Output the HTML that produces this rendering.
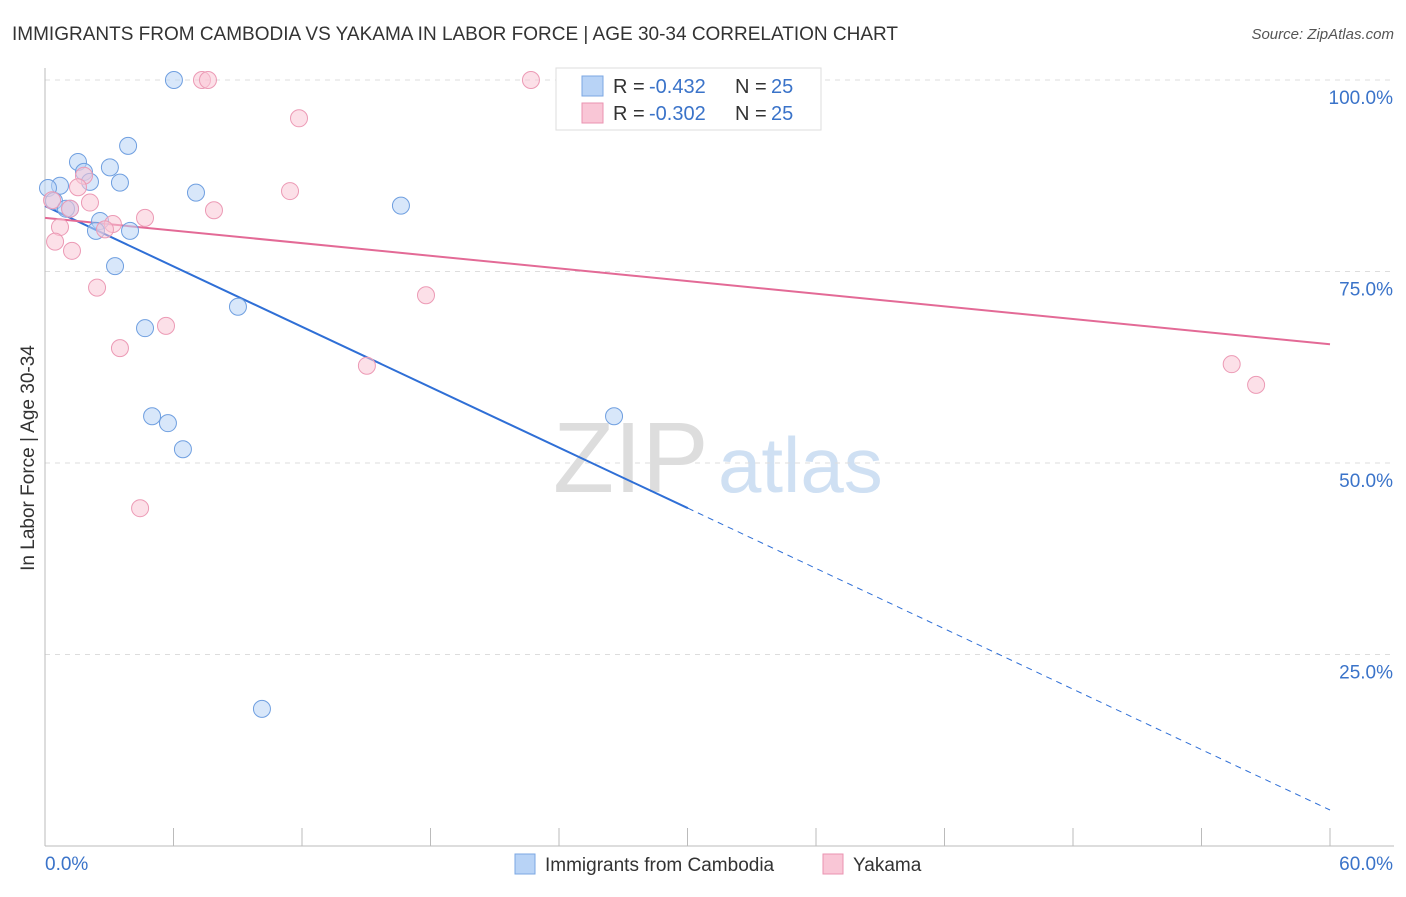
<!DOCTYPE html>
<html><head><meta charset="utf-8"><style>
body{margin:0;background:#fff;font-family:"Liberation Sans",sans-serif}
svg text{font-family:"Liberation Sans",sans-serif}
</style></head><body>
<svg id="chart" width="1406" height="892" xmlns="http://www.w3.org/2000/svg">
<text x="12" y="40" font-size="19" fill="#333" textLength="886" lengthAdjust="spacingAndGlyphs">IMMIGRANTS FROM CAMBODIA VS YAKAMA IN LABOR FORCE | AGE 30-34 CORRELATION CHART</text>
<text x="1394" y="39" font-size="15" fill="#555" text-anchor="end" font-style="italic">Source: ZipAtlas.com</text>
<g>
<text x="553" y="492" font-size="100" fill="#ddd" font-family="Liberation Serif">ZIP</text>
<text x="718" y="492" font-size="78" fill="#cfe0f3">atlas</text>
</g>
<g id="grid"></g><g id="axes"></g><g id="trends"></g><g id="points"></g>
<text transform="translate(34,458) rotate(-90)" font-size="19" fill="#333" text-anchor="middle">In Labor Force | Age 30-34</text>
<g>
<rect x="556" y="68" width="265" height="62" fill="#fff" stroke="#ddd"/>
<rect x="582" y="76" width="21" height="20" fill="#b8d3f6" stroke="#7ba7e3"/>
<rect x="582" y="103" width="21" height="20" fill="#f9c6d6" stroke="#ea93b0"/>
<text x="613" y="93" font-size="20" fill="#333">R =</text>
<text x="649" y="93" font-size="20" fill="#3a73c9">-0.432</text>
<text x="735" y="93" font-size="20" fill="#333">N =</text>
<text x="771" y="93" font-size="20" fill="#3a73c9">25</text>
<text x="613" y="120" font-size="20" fill="#333">R =</text>
<text x="649" y="120" font-size="20" fill="#3a73c9">-0.302</text>
<text x="735" y="120" font-size="20" fill="#333">N =</text>
<text x="771" y="120" font-size="20" fill="#3a73c9">25</text>
</g>
<g>
<rect x="515" y="854" width="20" height="20" fill="#b8d3f6" stroke="#7ba7e3"/>
<text x="545" y="871" font-size="19" fill="#333">Immigrants from Cambodia</text>
<rect x="823" y="854" width="20" height="20" fill="#f9c6d6" stroke="#ea93b0"/>
<text x="853" y="871" font-size="19" fill="#333">Yakama</text>
</g>
</svg>
<script>
const yTicks=[25,50,75,100];
const yTickLabels=["25.0%","50.0%","75.0%","100.0%"];
const xTicks=[0,6,12,18,24,30,36,42,48,54,60];
const blueX=[6.02,3.88,1.54,3.03,1.82,0.70,0.14,2.10,3.50,7.05,0.42,1.17,0.98,16.62,2.57,2.38,3.97,3.27,9.01,4.67,5.00,5.74,6.44,26.57,10.13];
const blueY=[100,91.4,89.3,88.6,88.0,86.2,85.9,86.7,86.6,85.3,84.2,83.2,83.2,83.6,81.6,80.3,80.3,75.7,70.4,67.6,56.1,55.2,51.8,56.1,17.9];
const pinkX=[7.33,7.61,22.69,11.86,1.82,11.44,1.54,2.10,1.17,7.89,4.67,3.17,2.80,0.70,0.47,1.26,2.43,17.79,5.65,3.50,15.03,55.41,56.55,4.44,0.33];
const pinkY=[100,100,100,95.0,87.5,85.5,86.0,84.0,83.2,83.0,82.0,81.2,80.5,80.8,78.9,77.7,72.9,71.9,67.9,65.0,62.7,62.9,60.2,44.1,84.3];
const blueTrend=[83.55,4.7];const blueSolidEnd=30.02;
const pinkTrend=[82.0,65.5];
const NS="http://www.w3.org/2000/svg";
const X=v=>45+v*(1285/60), Y=v=>846-v*7.66;
function mk(p,t,a){const e=document.createElementNS(NS,t);for(const k in a)e.setAttribute(k,a[k]);document.getElementById(p).appendChild(e);return e;}
yTicks.forEach((t,i)=>{
 const l=mk('grid','line',{x1:45,x2:1394,y1:Y(t),y2:Y(t),stroke:'#ddd','stroke-dasharray':'5,5'});
 
 
 const tx=mk('grid','text',{x:1393,y:Y(t)+24,'font-size':19,fill:'#3a73c9','text-anchor':'end'});
 tx.textContent=yTickLabels[i];
 
 
});
const ax=mk('axes','line',{x1:45,x2:45,y1:68,y2:846,stroke:'#bbb'});


const bx=mk('axes','line',{x1:45,x2:1394,y1:846,y2:846,stroke:'#bbb'});


xTicks.forEach(t=>{const l=mk('axes','line',{x1:X(t),x2:X(t),y1:828,y2:846,stroke:'#bbb'});
 
 });
const xl0=mk('axes','text',{x:45,y:870,'font-size':19,fill:'#3a73c9'});xl0.textContent='0.0%';


const xl1=mk('axes','text',{x:1393,y:870,'font-size':19,fill:'#3a73c9','text-anchor':'end'});xl1.textContent='60.0%';


function pts(xs,ys,fill,stroke,name){xs.forEach((x,i)=>{const c=mk('points','circle',{cx:X(x),cy:Y(ys[i]),r:8.5,fill:fill,'fill-opacity':0.55,stroke:stroke,'stroke-width':1});
 
 });}
pts(blueX,blueY,'#b8d3f6','#6f9fe0','cambodia-point');
pts(pinkX,pinkY,'#f9c6d6','#ec9ab5','yakama-point');
const by=x=>blueTrend[0]+(blueTrend[1]-blueTrend[0])*x/60;
const t1=mk('trends','line',{x1:X(0),y1:Y(by(0)),x2:X(blueSolidEnd),y2:Y(by(blueSolidEnd)),stroke:'#2f6fd6','stroke-width':2});


const t2=mk('trends','line',{x1:X(blueSolidEnd),y1:Y(by(blueSolidEnd)),x2:X(60),y2:Y(by(60)),stroke:'#2f6fd6','stroke-width':1,'stroke-dasharray':'6,5'});


const t3=mk('trends','line',{x1:X(0),y1:Y(pinkTrend[0]),x2:X(60),y2:Y(pinkTrend[1]),stroke:'#e36a96','stroke-width':2});


</script>
</body></html>
